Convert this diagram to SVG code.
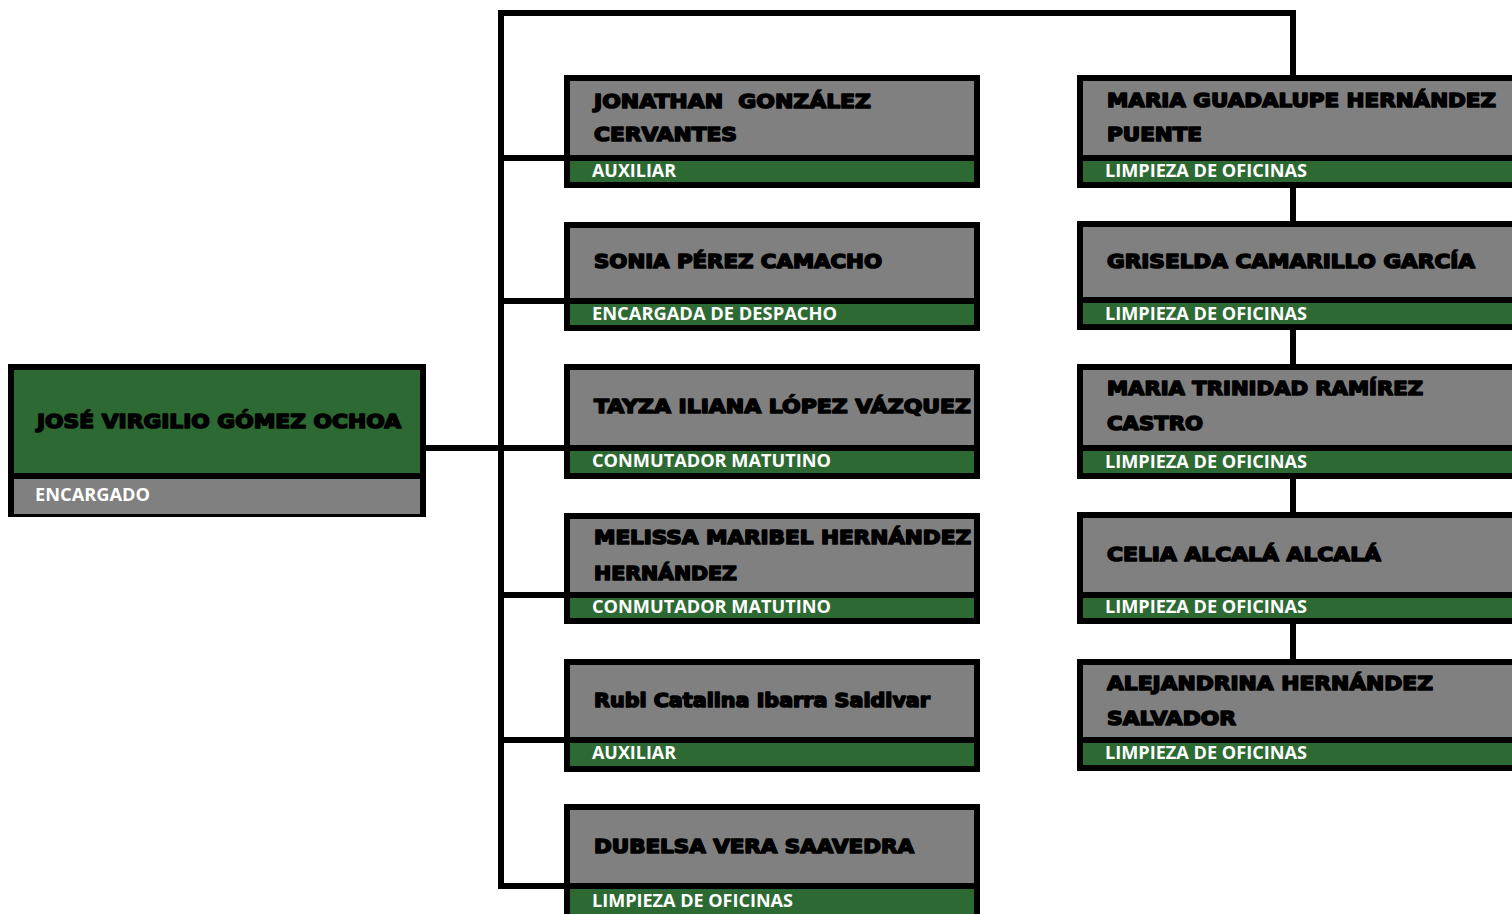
<svg xmlns="http://www.w3.org/2000/svg" width="1512" height="914" viewBox="0 0 1512 914">
<style>
.bg{fill:#ffffff}
.box{fill:#808080;stroke:#000;stroke-width:6}
.boxg{fill:#2d6a33;stroke:#000;stroke-width:6}
.grn{fill:#2d6a33}
.gry{fill:#808080}
.sep{stroke:#000;stroke-width:6;fill:none}
.con{stroke:#000;stroke-width:6;fill:none;stroke-linejoin:miter}
.nm{font-family:"DejaVu Sans","Liberation Sans",Arial,sans-serif;font-weight:bold;font-size:19.5px;fill:#000;stroke:#000;stroke-width:1.6;stroke-linejoin:round}
.rl{font-family:"Open Sans","Liberation Sans",sans-serif;font-weight:bold;font-size:18px;fill:#fff}
</style>
<rect class="bg" x="0" y="0" width="1512" height="914"/>
<g id="connectors">
<path class="con" d="M564,886 H501 V13 H1293 V665"/>
<path class="con" d="M501,158 H564 M501,301 H564 M501,595 H564 M501,740 H564 M426,448 H564"/>
</g>
<g id="n0">
<rect class="boxg" x="11" y="367" width="412" height="147"/>
<rect class="gry" x="14" y="476" width="406" height="38"/>
<line class="sep" x1="11" y1="476" x2="423" y2="476"/>
<text class="nm" x="37" y="428" font-size="22.5" textLength="364" lengthAdjust="spacingAndGlyphs">JOSÉ VIRGILIO GÓMEZ OCHOA</text>
<text class="rl" x="35" y="501" textLength="115" lengthAdjust="spacingAndGlyphs">ENCARGADO</text>
</g>
<g id="m1">
<rect class="box" x="567" y="78" width="410" height="107"/>
<rect class="grn" x="570" y="161" width="404" height="21"/>
<line class="sep" x1="567" y1="158" x2="977" y2="158"/>
<text class="nm" x="594" y="108" xml:space="preserve" textLength="277" lengthAdjust="spacingAndGlyphs">JONATHAN  GONZÁLEZ</text>
<text class="nm" x="594" y="141" textLength="143" lengthAdjust="spacingAndGlyphs">CERVANTES</text>
<text class="rl" x="592" y="177" textLength="84" lengthAdjust="spacingAndGlyphs">AUXILIAR</text>
</g>
<g id="m2">
<rect class="box" x="567" y="225" width="410" height="103"/>
<rect class="grn" x="570" y="304" width="404" height="21"/>
<line class="sep" x1="567" y1="301" x2="977" y2="301"/>
<text class="nm" x="594" y="268" textLength="288" lengthAdjust="spacingAndGlyphs">SONIA PÉREZ CAMACHO</text>
<text class="rl" x="592" y="320" textLength="245" lengthAdjust="spacingAndGlyphs">ENCARGADA DE DESPACHO</text>
</g>
<g id="m3">
<rect class="box" x="567" y="367" width="410" height="109"/>
<rect class="grn" x="570" y="451" width="404" height="22"/>
<line class="sep" x1="567" y1="448" x2="977" y2="448"/>
<text class="nm" x="594" y="413" textLength="377" lengthAdjust="spacingAndGlyphs">TAYZA ILIANA LÓPEZ VÁZQUEZ</text>
<text class="rl" x="592" y="467" textLength="239" lengthAdjust="spacingAndGlyphs">CONMUTADOR MATUTINO</text>
</g>
<g id="m4">
<rect class="box" x="567" y="516" width="410" height="105"/>
<rect class="grn" x="570" y="598" width="404" height="20"/>
<line class="sep" x1="567" y1="595" x2="977" y2="595"/>
<text class="nm" x="594" y="544" textLength="377" lengthAdjust="spacingAndGlyphs">MELISSA MARIBEL HERNÁNDEZ</text>
<text class="nm" x="594" y="580" textLength="143" lengthAdjust="spacingAndGlyphs">HERNÁNDEZ</text>
<text class="rl" x="592" y="613" textLength="239" lengthAdjust="spacingAndGlyphs">CONMUTADOR MATUTINO</text>
</g>
<g id="m5">
<rect class="box" x="567" y="662" width="410" height="107"/>
<rect class="grn" x="570" y="743" width="404" height="23"/>
<line class="sep" x1="567" y1="740" x2="977" y2="740"/>
<text class="nm" x="594" y="707" textLength="336" lengthAdjust="spacingAndGlyphs">Rubi Catalina Ibarra Saldivar</text>
<text class="rl" x="592" y="759" textLength="84" lengthAdjust="spacingAndGlyphs">AUXILIAR</text>
</g>
<g id="m6">
<rect class="box" x="567" y="807" width="410" height="113"/>
<rect class="grn" x="570" y="889" width="404" height="28"/>
<line class="sep" x1="567" y1="886" x2="977" y2="886"/>
<text class="nm" x="594" y="853" textLength="320" lengthAdjust="spacingAndGlyphs">DUBELSA VERA SAAVEDRA</text>
<text class="rl" x="592" y="907" textLength="201" lengthAdjust="spacingAndGlyphs">LIMPIEZA DE OFICINAS</text>
</g>
<g id="r1">
<rect class="box" x="1080" y="78" width="520" height="107"/>
<rect class="grn" x="1083" y="161" width="514" height="21"/>
<line class="sep" x1="1080" y1="158" x2="1600" y2="158"/>
<text class="nm" x="1107" y="107" textLength="389" lengthAdjust="spacingAndGlyphs">MARIA GUADALUPE HERNÁNDEZ</text>
<text class="nm" x="1107" y="141" textLength="95" lengthAdjust="spacingAndGlyphs">PUENTE</text>
<text class="rl" x="1105" y="177" textLength="202" lengthAdjust="spacingAndGlyphs">LIMPIEZA DE OFICINAS</text>
</g>
<g id="r2">
<rect class="box" x="1080" y="224" width="520" height="103"/>
<rect class="grn" x="1083" y="303" width="514" height="21"/>
<line class="sep" x1="1080" y1="300" x2="1600" y2="300"/>
<text class="nm" x="1107" y="268" textLength="368" lengthAdjust="spacingAndGlyphs">GRISELDA CAMARILLO GARCÍA</text>
<text class="rl" x="1105" y="320" textLength="202" lengthAdjust="spacingAndGlyphs">LIMPIEZA DE OFICINAS</text>
</g>
<g id="r3">
<rect class="box" x="1080" y="367" width="520" height="109"/>
<rect class="grn" x="1083" y="451" width="514" height="22"/>
<line class="sep" x1="1080" y1="448" x2="1600" y2="448"/>
<text class="nm" x="1107" y="395" textLength="316" lengthAdjust="spacingAndGlyphs">MARIA TRINIDAD RAMÍREZ</text>
<text class="nm" x="1107" y="430" textLength="96" lengthAdjust="spacingAndGlyphs">CASTRO</text>
<text class="rl" x="1105" y="468" textLength="202" lengthAdjust="spacingAndGlyphs">LIMPIEZA DE OFICINAS</text>
</g>
<g id="r4">
<rect class="box" x="1080" y="515" width="520" height="106"/>
<rect class="grn" x="1083" y="598" width="514" height="20"/>
<line class="sep" x1="1080" y1="595" x2="1600" y2="595"/>
<text class="nm" x="1107" y="561" textLength="274" lengthAdjust="spacingAndGlyphs">CELIA ALCALÁ ALCALÁ</text>
<text class="rl" x="1105" y="613" textLength="202" lengthAdjust="spacingAndGlyphs">LIMPIEZA DE OFICINAS</text>
</g>
<g id="r5">
<rect class="box" x="1080" y="662" width="520" height="106"/>
<rect class="grn" x="1083" y="743" width="514" height="22"/>
<line class="sep" x1="1080" y1="740" x2="1600" y2="740"/>
<text class="nm" x="1107" y="690" textLength="326" lengthAdjust="spacingAndGlyphs">ALEJANDRINA HERNÁNDEZ</text>
<text class="nm" x="1107" y="725" textLength="129" lengthAdjust="spacingAndGlyphs">SALVADOR</text>
<text class="rl" x="1105" y="759" textLength="202" lengthAdjust="spacingAndGlyphs">LIMPIEZA DE OFICINAS</text>
</g>
</svg>
